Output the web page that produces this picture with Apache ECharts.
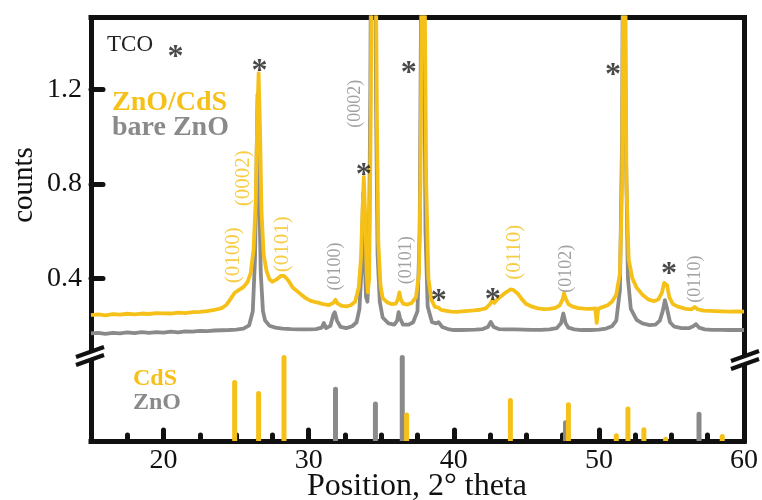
<!DOCTYPE html>
<html>
<head>
<meta charset="utf-8">
<script src="https://cdn.jsdelivr.net/npm/echarts@6/dist/echarts.min.js"></script>
<style>
html,body{margin:0;padding:0;background:#fff;}
#chart{width:762px;height:500px;}
</style>
</head>
<body>
<div id="chart"></div>
<script>
// ---- Data ----
// ZnO/CdS film pattern (yellow)
const cdsFilmTheta = [15.0,15.5,16.0,16.5,17.0,17.5,18.0,18.5,19.0,19.5,20.0,20.5,21.0,21.5,22.0,22.5,23.0,23.5,24.0,24.3,24.6,24.9,25.2,25.5,25.8,26.0,26.2,26.35,26.45,26.55,26.65,26.75,26.9,27.1,27.3,27.5,27.8,28.1,28.3,28.6,28.9,29.2,29.5,29.8,30.1,30.5,31.0,31.4,31.7,31.85,32.0,32.3,32.6,32.9,33.2,33.45,33.6,33.72,33.8,33.9,34.0,34.08,34.17,34.28,34.4,34.55,34.7,34.8,34.95,35.1,35.4,35.7,36.0,36.15,36.25,36.35,36.5,36.8,37.1,37.4,37.6,37.7,37.8,37.9,38.0,38.1,38.25,38.45,38.7,38.95,39.1,39.4,39.8,40.2,40.6,41.0,41.4,41.8,42.2,42.5,42.65,42.8,43.0,43.3,43.6,43.9,44.1,44.4,44.7,45.0,45.4,45.8,46.2,46.6,47.0,47.3,47.5,47.6,47.7,47.9,48.2,48.6,49.0,49.4,49.75,49.85,49.95,50.2,50.6,50.9,51.2,51.45,51.6,51.75,51.9,52.05,52.3,52.6,53.0,53.4,53.8,54.1,54.35,54.5,54.6,54.7,54.85,55.1,55.5,56.0,56.4,56.6,56.8,57.2,57.6,58.0,58.5,59.0,59.5,60.0];
const cdsFilmCounts = [0.243,0.246,0.242,0.247,0.245,0.249,0.246,0.250,0.248,0.252,0.251,0.250,0.254,0.252,0.256,0.257,0.260,0.265,0.273,0.285,0.310,0.338,0.350,0.362,0.385,0.42,0.52,0.72,1.05,1.27,1.02,0.68,0.50,0.43,0.395,0.385,0.395,0.41,0.41,0.39,0.36,0.345,0.33,0.315,0.305,0.298,0.290,0.286,0.295,0.308,0.292,0.282,0.280,0.285,0.30,0.36,0.48,0.70,0.83,0.66,0.42,0.34,0.40,1.10,2.5,2.5,1.1,0.55,0.37,0.315,0.298,0.290,0.292,0.31,0.34,0.31,0.292,0.288,0.295,0.32,0.42,0.8,1.6,2.5,1.6,0.8,0.40,0.31,0.278,0.275,0.266,0.262,0.258,0.257,0.259,0.261,0.263,0.266,0.272,0.29,0.305,0.295,0.31,0.325,0.34,0.352,0.35,0.335,0.31,0.29,0.279,0.272,0.269,0.270,0.274,0.285,0.31,0.336,0.315,0.29,0.279,0.273,0.271,0.270,0.272,0.21,0.27,0.276,0.285,0.30,0.33,0.42,0.80,2.5,0.80,0.48,0.40,0.36,0.33,0.31,0.302,0.31,0.34,0.38,0.385,0.37,0.32,0.29,0.278,0.270,0.268,0.278,0.268,0.262,0.261,0.260,0.259,0.258,0.259,0.258];

// bare ZnO film pattern (gray)
const znoFilmTheta = [15.0,15.5,16.0,16.5,17.0,17.5,18.0,18.5,19.0,19.5,20.0,20.5,21.0,21.5,22.0,22.5,23.0,23.5,24.0,24.5,25.0,25.5,25.9,26.15,26.3,26.4,26.48,26.58,26.7,26.85,27.0,27.3,27.7,28.2,28.8,29.4,30.0,30.5,30.9,31.05,31.2,31.5,31.7,31.8,31.95,32.2,32.6,33.0,33.3,33.5,33.65,33.75,33.85,33.95,34.05,34.15,34.25,34.35,34.5,34.65,34.75,34.9,35.1,35.5,35.9,36.1,36.2,36.3,36.5,36.9,37.2,37.5,37.65,37.75,37.85,37.95,38.05,38.2,38.5,38.8,38.95,39.2,39.6,40.0,40.5,41.0,41.5,42.0,42.35,42.55,42.75,43.1,43.6,44.2,44.8,45.4,46.0,46.6,47.1,47.4,47.55,47.7,47.9,48.3,48.8,49.4,50.0,50.5,50.9,51.2,51.45,51.6,51.7,51.85,52.0,52.2,52.6,53.0,53.5,53.9,54.2,54.4,54.55,54.7,54.9,55.2,55.7,56.2,56.5,56.7,56.9,57.3,57.8,58.4,59.0,59.5,60.0];
const znoFilmCounts = [0.166,0.168,0.164,0.168,0.166,0.170,0.167,0.171,0.168,0.171,0.169,0.173,0.170,0.174,0.173,0.176,0.175,0.178,0.179,0.180,0.182,0.186,0.20,0.26,0.48,0.85,1.18,0.80,0.42,0.26,0.22,0.198,0.19,0.186,0.184,0.183,0.183,0.184,0.19,0.21,0.188,0.198,0.245,0.255,0.22,0.193,0.188,0.196,0.213,0.27,0.45,0.76,0.50,0.32,0.30,0.45,1.2,2.5,2.5,1.1,0.5,0.30,0.233,0.208,0.203,0.22,0.256,0.23,0.203,0.203,0.213,0.26,0.6,1.6,2.5,1.6,0.6,0.28,0.213,0.208,0.213,0.193,0.184,0.180,0.180,0.181,0.182,0.184,0.193,0.214,0.193,0.184,0.183,0.183,0.182,0.181,0.181,0.183,0.188,0.21,0.25,0.21,0.19,0.183,0.180,0.180,0.182,0.186,0.196,0.22,0.35,1.0,2.5,1.0,0.40,0.27,0.223,0.208,0.201,0.203,0.22,0.26,0.307,0.27,0.213,0.194,0.188,0.188,0.196,0.205,0.19,0.183,0.181,0.181,0.180,0.181,0.180];

// Reference stick patterns (relative intensity, 0-100)
const cdsRefTheta = [24.9,26.55,28.3,36.75,43.9,47.9,51.2,52.0,53.1,54.6,58.5];
const cdsRefInt   = [71,58,100,33,50,45,9,40,16,5,8];
const znoRefTheta = [31.85,34.6,36.45,47.7,56.9];
const znoRefInt   = [63,46,100,24,34];

// Peak annotations
const starTheta = [20.83,26.62,33.8,36.9,38.97,42.69,50.97,54.83];
const starCounts = [1.37,1.31,0.87,1.30,0.336,0.34,1.294,0.447];
const cdsHklText  = ['(0100)','(0002)','(0101)','(0110)'];
const cdsHklTheta = [24.83,25.52,28.21,44.2];
const cdsHklCounts= [0.497,0.824,0.544,0.51];
const znoHklText  = ['(0100)','(0002)','(0101)','(0102)','(0110)'];
const znoHklTheta = [31.8,33.24,36.76,47.72,56.62];
const znoHklCounts= [0.45,1.14,0.476,0.44,0.396];

// Axis ticks
const yTickValues = [0.4,0.8,1.2];
const xLabelValues = [20,30,40,50,60];
const xMajorTicks = [20,30,40,50];
const xMinorTicks = [17.5,22.5,25,27.5,32.5,35,37.5,42.5,45,47.5,52.5,55,57.5];

// ---- Styling ----
const YEL = '#F5C018';
const GRY = '#8A8A8A';
const INK = '#111111';
const SERIF = 'Liberation Serif';

const zip = (a, b) => a.map((v, i) => [v, b[i]]);
const lineAx = {show: true, lineStyle: {color: INK, width: 5, cap: 'square'}};
const txt = (x, y, text, size, weight, fill, extra) => Object.assign({
  type: 'text', z: 102, x: x, y: y,
  style: Object.assign({text: text, fontFamily: SERIF, fontSize: size, fontWeight: weight,
                        fill: fill, verticalAlign: 'middle', textVerticalAlign: 'middle'}, extra || {})
}, {});

const chart = echarts.init(document.getElementById('chart'));
chart.setOption({
  animation: false,
  backgroundColor: '#fff',
  grid: [
    {left: 91, right: 18, top: 17.5, height: 337.5},
    {left: 91, right: 18, top: 355, height: 86}
  ],
  xAxis: [
    {gridIndex: 0, type: 'value', min: 15, max: 60, position: 'top',
     axisLine: lineAx, axisTick: {show: false}, axisLabel: {show: false}, splitLine: {show: false}},
    {gridIndex: 1, type: 'value', min: 15, max: 60, position: 'bottom',
     axisLine: lineAx,
     axisTick: {show: true, inside: true, length: 6, customValues: xMinorTicks,
                lineStyle: {color: INK, width: 5, cap: 'round'}},
     axisLabel: {show: true, customValues: xLabelValues, margin: 6,
                 fontFamily: SERIF, fontSize: 28, color: INK},
     splitLine: {show: false}},
    {gridIndex: 1, type: 'value', min: 15, max: 60, position: 'bottom',
     axisLine: {show: false},
     axisTick: {show: true, inside: true, length: 11, customValues: xMajorTicks,
                lineStyle: {color: INK, width: 5, cap: 'round'}},
     axisLabel: {show: false}, splitLine: {show: false}}
  ],
  yAxis: [
    {gridIndex: 0, type: 'value', min: 0.074, max: 1.506, position: 'left',
     axisLine: lineAx,
     axisTick: {show: true, inside: true, length: 12, customValues: yTickValues,
                lineStyle: {color: INK, width: 5, cap: 'round'}},
     axisLabel: {show: true, customValues: yTickValues, margin: 9,
                 fontFamily: SERIF, fontSize: 28, color: INK,
                 formatter: v => Number(v).toFixed(1)},
     splitLine: {show: false}},
    {gridIndex: 0, type: 'value', min: 0.074, max: 1.506, position: 'right',
     axisLine: lineAx, axisTick: {show: false}, axisLabel: {show: false}, splitLine: {show: false}},
    {gridIndex: 1, type: 'value', min: 0, max: 100, position: 'left',
     axisLine: lineAx, axisTick: {show: false}, axisLabel: {show: false}, splitLine: {show: false}},
    {gridIndex: 1, type: 'value', min: 0, max: 100, position: 'right',
     axisLine: lineAx, axisTick: {show: false}, axisLabel: {show: false}, splitLine: {show: false}}
  ],
  series: [
    {name: 'bare ZnO', type: 'line', xAxisIndex: 0, yAxisIndex: 0, z: 2,
     data: zip(znoFilmTheta, znoFilmCounts), showSymbol: false, symbol: 'none',
     lineStyle: {color: GRY, width: 3.8, join: 'round'}},
    {name: 'ZnO/CdS', type: 'line', xAxisIndex: 0, yAxisIndex: 0, z: 3,
     data: zip(cdsFilmTheta, cdsFilmCounts), showSymbol: false, symbol: 'none',
     lineStyle: {color: YEL, width: 3.8, join: 'round'}},
    {name: 'ZnO ref', type: 'bar', xAxisIndex: 2, yAxisIndex: 2, z: 2, barWidth: 5,
     data: zip(znoRefTheta, znoRefInt),
     itemStyle: {color: GRY, borderRadius: [3,3,0,0]}},
    {name: 'CdS ref', type: 'bar', xAxisIndex: 1, yAxisIndex: 2, z: 3, barWidth: 5,
     data: zip(cdsRefTheta, cdsRefInt),
     itemStyle: {color: YEL, borderRadius: [3,3,0,0]}},
    {name: 'stars', type: 'scatter', xAxisIndex: 0, yAxisIndex: 0, z: 5,
     symbolSize: 0, data: zip(starTheta, starCounts),
     label: {show: true, position: 'inside', formatter: '*', offset: [0, 8],
             fontFamily: SERIF, fontWeight: 'bold', fontSize: 32, color: '#1a1a1a'}},
    {name: 'CdS hkl', type: 'scatter', xAxisIndex: 0, yAxisIndex: 0, z: 5,
     symbolSize: 0,
     data: cdsHklText.map((t, i) => ({name: t, value: [cdsHklTheta[i], cdsHklCounts[i]]})),
     label: {show: true, position: 'inside', formatter: '{b}', rotate: 90,
             fontFamily: SERIF, fontSize: 21, color: YEL}},
    {name: 'ZnO hkl', type: 'scatter', xAxisIndex: 0, yAxisIndex: 0, z: 5,
     symbolSize: 0,
     data: znoHklText.map((t, i) => ({name: t, value: [znoHklTheta[i], znoHklCounts[i]]})),
     label: {show: true, position: 'inside', formatter: '{b}', rotate: 90,
             fontFamily: SERIF, fontSize: 18, color: GRY}}
  ],
  graphic: [
    // axis break marks
    {type: 'polygon', z: 100, shape: {points: [[76,357],[104,347],[104,355],[76,365]]}, style: {fill: '#fff'}},
    {type: 'line', z: 101, shape: {x1: 76, y1: 357, x2: 104, y2: 347}, style: {stroke: INK, lineWidth: 4}},
    {type: 'line', z: 101, shape: {x1: 76, y1: 365, x2: 104, y2: 355}, style: {stroke: INK, lineWidth: 4}},
    {type: 'polygon', z: 100, shape: {points: [[731,361],[759,351],[759,359],[731,369]]}, style: {fill: '#fff'}},
    {type: 'line', z: 101, shape: {x1: 731, y1: 361, x2: 759, y2: 351}, style: {stroke: INK, lineWidth: 4}},
    {type: 'line', z: 101, shape: {x1: 731, y1: 369, x2: 759, y2: 359}, style: {stroke: INK, lineWidth: 4}},
    // texts
    txt(107, 45, 'TCO', 23, 'normal', '#222'),
    txt(112, 103, 'ZnO/CdS', 28, 'bold', YEL),
    txt(112, 128, 'bare ZnO', 28, 'bold', GRY),
    txt(133, 379, 'CdS', 24, 'bold', YEL),
    txt(133, 403, 'ZnO', 24, 'bold', GRY),
    Object.assign(txt(24, 185, 'counts', 29, 'normal', INK, {align: 'center', textAlign: 'center'}), {rotation: Math.PI / 2}),
    txt(417, 487, 'Position, 2° theta', 32, 'normal', INK, {align: 'center', textAlign: 'center'})
  ]
});
</script>
</body>
</html>
